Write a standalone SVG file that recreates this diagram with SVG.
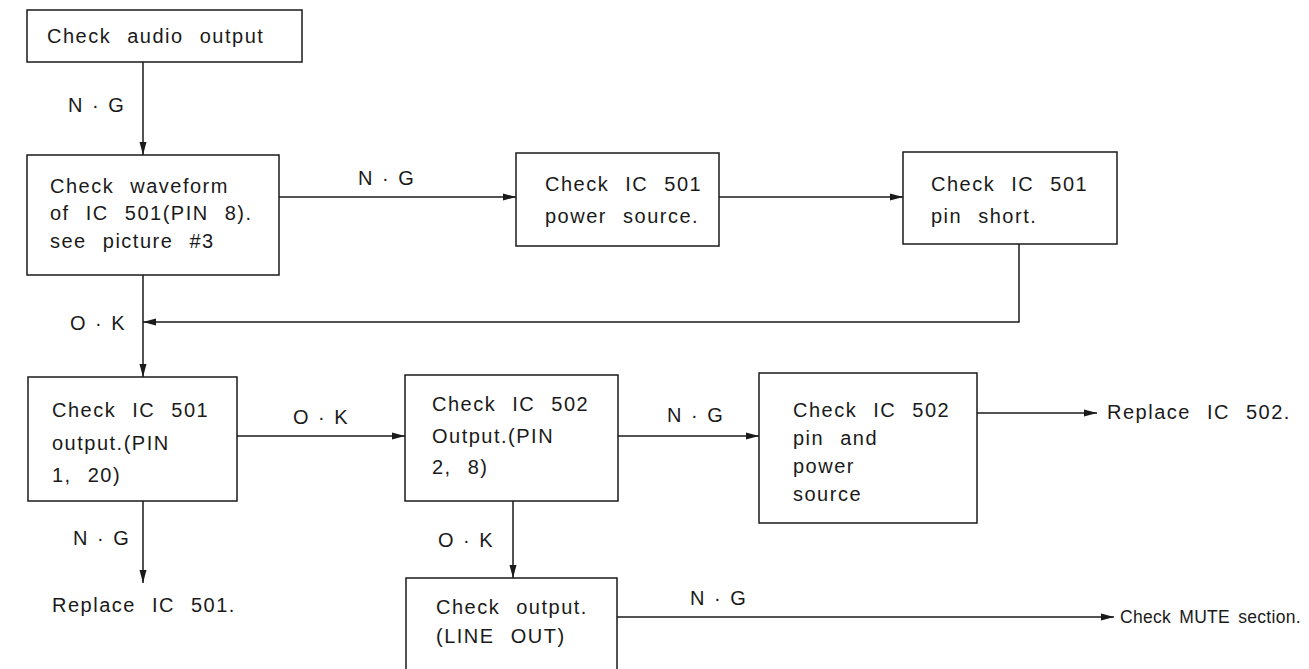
<svg xmlns="http://www.w3.org/2000/svg" width="1309" height="669" viewBox="0 0 1309 669">
<defs>
<style>
.box{fill:#fff;stroke:#1a1a1a;stroke-width:1.5}
.t{font-family:"Liberation Sans",Arial,sans-serif;font-size:20px;letter-spacing:1.5px;word-spacing:9px;fill:#1a1a1a}
.lbl{font-family:"Liberation Sans",Arial,sans-serif;font-size:20px;letter-spacing:1px;word-spacing:2px;fill:#1a1a1a}
.c{fill:none;stroke:#1a1a1a;stroke-width:1.5}
</style>
<marker id="ah" viewBox="0 0 13 9" refX="13" refY="4.5" markerWidth="13" markerHeight="9" markerUnits="userSpaceOnUse" orient="auto">
<path d="M0,1 L13,4.5 L0,8 Z" fill="#1a1a1a"/>
</marker>
</defs>
<rect width="1309" height="669" fill="#fff"/>

<g id="connectors">
<line class="c" x1="143" y1="62" x2="143" y2="155" marker-end="url(#ah)"/>
<line class="c" x1="279" y1="197" x2="516" y2="197" marker-end="url(#ah)"/>
<line class="c" x1="719" y1="197" x2="903" y2="197" marker-end="url(#ah)"/>
<polyline class="c" points="1019,244 1019,322 143,322" marker-end="url(#ah)"/>
<line class="c" x1="143" y1="275" x2="143" y2="377" marker-end="url(#ah)"/>
<line class="c" x1="237" y1="436" x2="405" y2="436" marker-end="url(#ah)"/>
<line class="c" x1="618" y1="436" x2="759" y2="436" marker-end="url(#ah)"/>
<line class="c" x1="977" y1="413" x2="1097" y2="413" marker-end="url(#ah)"/>
<line class="c" x1="143" y1="501" x2="143" y2="583" marker-end="url(#ah)"/>
<line class="c" x1="513" y1="501" x2="513" y2="578" marker-end="url(#ah)"/>
<line class="c" x1="617" y1="617" x2="1114" y2="617" marker-end="url(#ah)"/>
<text class="lbl" x="68" y="112">N · G</text>
<text class="lbl" x="358" y="185">N · G</text>
<text class="lbl" x="70" y="330">O · K</text>
<text class="lbl" x="293" y="424">O · K</text>
<text class="lbl" x="667" y="422">N · G</text>
<text class="lbl" x="73" y="545">N · G</text>
<text class="lbl" x="438" y="547">O · K</text>
<text class="lbl" x="690" y="605">N · G</text>
</g>

<g id="n1">
<rect class="box" x="27" y="10" width="275" height="52"/>
<text class="t" x="47" y="43">Check audio output</text>
</g>

<g id="n2">
<rect class="box" x="27" y="155" width="252" height="120"/>
<text class="t" x="50" y="193">Check waveform</text>
<text class="t" x="50" y="220">of IC 501(PIN 8).</text>
<text class="t" x="50" y="248">see picture #3</text>
</g>

<g id="n3">
<rect class="box" x="516" y="153" width="203" height="93"/>
<text class="t" x="545" y="191">Check IC 501</text>
<text class="t" x="545" y="223">power source.</text>
</g>

<g id="n4">
<rect class="box" x="903" y="152" width="214" height="92"/>
<text class="t" x="931" y="191">Check IC 501</text>
<text class="t" x="931" y="223">pin short.</text>
</g>

<g id="n5">
<rect class="box" x="28" y="377" width="209" height="124"/>
<text class="t" x="52" y="417">Check IC 501</text>
<text class="t" x="52" y="450">output.(PIN</text>
<text class="t" x="52" y="482">1, 20)</text>
</g>

<g id="n6">
<rect class="box" x="405" y="375" width="213" height="126"/>
<text class="t" x="432" y="411">Check IC 502</text>
<text class="t" x="432" y="443">Output.(PIN</text>
<text class="t" x="432" y="474">2, 8)</text>
</g>

<g id="n7">
<rect class="box" x="759" y="373" width="218" height="150"/>
<text class="t" x="793" y="417">Check IC 502</text>
<text class="t" x="793" y="445">pin and</text>
<text class="t" x="793" y="473">power</text>
<text class="t" x="793" y="501">source</text>
</g>

<g id="n8">
<rect class="box" x="406" y="578" width="211" height="110"/>
<text class="t" x="436" y="614">Check output.</text>
<text class="t" x="436" y="643">(LINE OUT)</text>
</g>

<g id="r1">
<text class="t" x="52" y="612">Replace IC 501.</text>
</g>
<g id="r2">
<text class="t" x="1107" y="419">Replace IC 502.</text>
</g>
<g id="r3">
<text class="t" x="1120" y="623" style="font-size:17.5px;letter-spacing:0.3px;word-spacing:3px">Check MUTE section.</text>
</g>
</svg>
